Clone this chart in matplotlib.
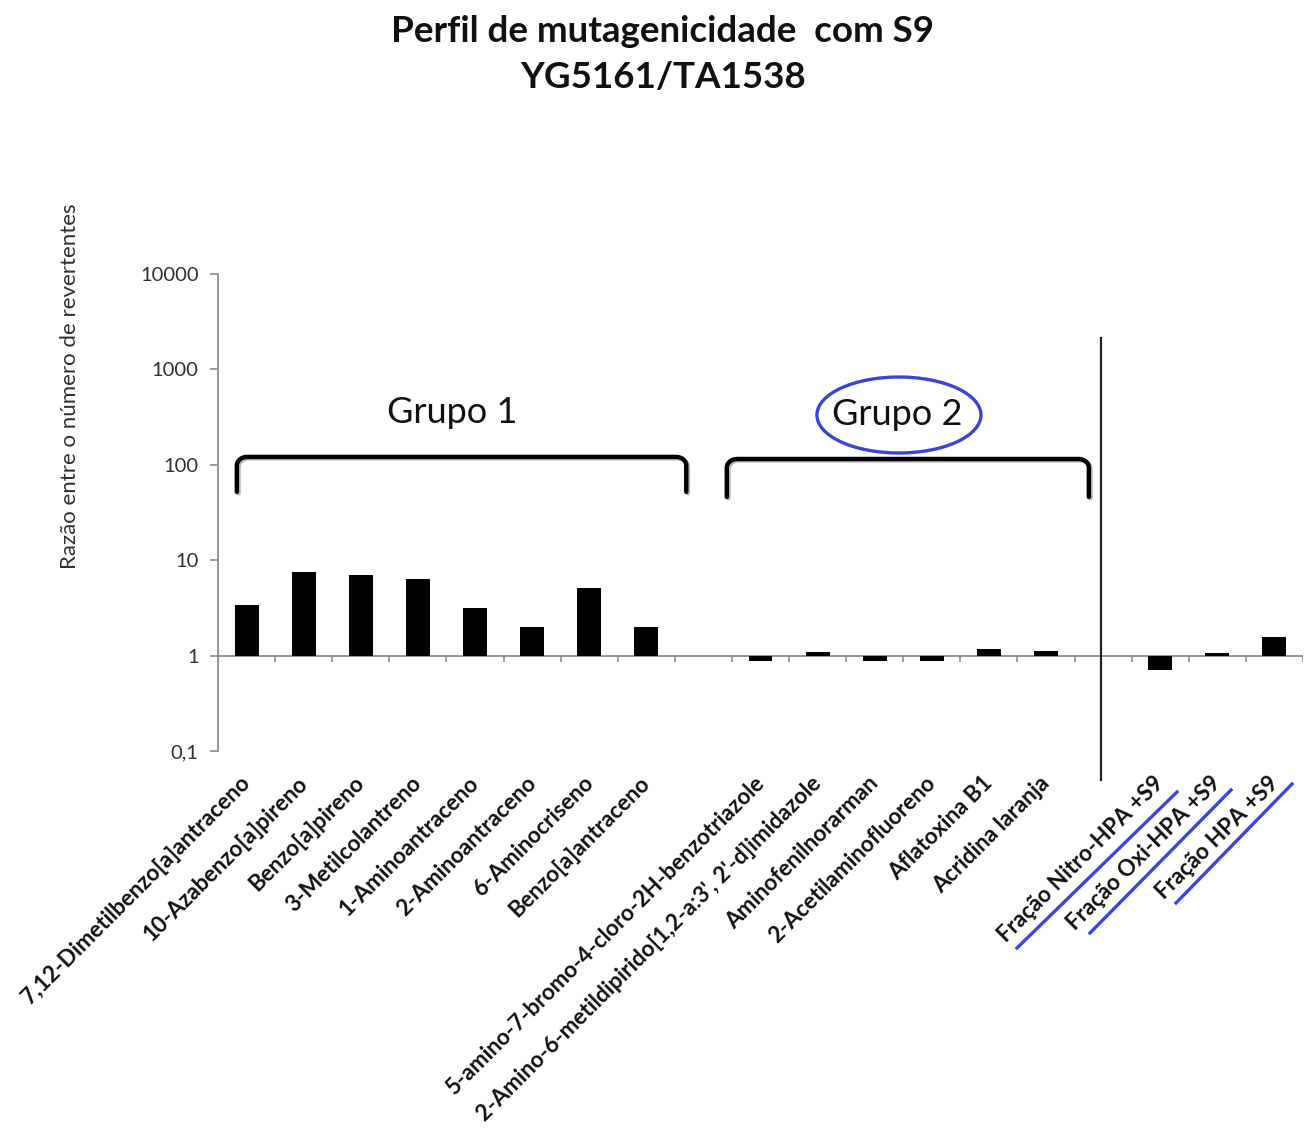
import numpy as np
import matplotlib
matplotlib.use("Agg")
import matplotlib.pyplot as plt
from matplotlib.patches import Ellipse
from matplotlib.lines import Line2D
from matplotlib.transforms import ScaledTranslation

plt.rcParams['font.family'] = ['Lato', 'DejaVu Sans']

# razao entre o numero de revertentes (YG5161 / TA1538), com S9
grupo1_nomes = ["7,12-Dimetilbenzo[a]antraceno", "10-Azabenzo[a]pireno", "Benzo[a]pireno",
                "3-Metilcolantreno", "1-Aminoantraceno", "2-Aminoantraceno",
                "6-Aminocriseno", "Benzo[a]antraceno"]
grupo1_valores = [3.4, 7.6, 7.0, 6.35, 3.15, 2.0, 5.1, 2.0]

grupo2_nomes = ["5-amino-7-bromo-4-cloro-2H-benzotriazole",
                "2-Amino-6-metildipirido[1,2-a:3', 2'-d]imidazole",
                "Aminofenilnorarman", "2-Acetilaminofluoreno", "Aflatoxina B1", "Acridina laranja"]
grupo2_valores = [0.87, 1.08, 0.87, 0.87, 1.18, 1.12]

fracoes_nomes = ["Fração Nitro-HPA +S9", "Fração Oxi-HPA +S9", "Fração HPA +S9"]
fracoes_valores = [0.71, 1.07, 1.57]

ytick_vals = [0.1, 1, 10, 100, 1000, 10000]
ytick_txt = ["0,1", "1", "10", "100", "1000", "10000"]

# posicoes das categorias: grupo 1, vazio, grupo 2, vazio, fracoes
pos1 = np.arange(8) + 0.5
pos2 = np.arange(9, 15) + 0.5
pos3 = np.arange(16, 19) + 0.5
n_slots = 19

fig = plt.figure(figsize=(13.05, 11.29), dpi=100)
ax = fig.add_axes([218 / 1305, 1 - 751 / 1129, (1303 - 218) / 1305, 477 / 1129])

for pos, vals in [(pos1, grupo1_valores), (pos2, grupo2_valores), (pos3, fracoes_valores)]:
    vals = np.array(vals)
    ax.bar(pos, vals - 1, bottom=1, width=0.42, color='black', zorder=3)

ax.set_yscale('log')
ax.set_ylim(0.1, 10000)
ax.set_xlim(0, n_slots)
ax.set_yticks(ytick_vals, ytick_txt)
ax.yaxis.set_minor_locator(matplotlib.ticker.NullLocator())
ax.tick_params(axis='y', length=6, width=1.2, color='#8c8c8c', labelsize=14.5,
               labelcolor='#303030', pad=8)
for s in ['top', 'right', 'bottom']:
    ax.spines[s].set_visible(False)
ax.spines['left'].set_color('#8c8c8c')
ax.spines['left'].set_linewidth(1.3)

# eixo horizontal cruzando em 1, com marcas entre categorias
ax.axhline(1, color='#8c8c8c', lw=1.3, zorder=2)
limites = np.arange(1, n_slots + 1)
ax.vlines(limites, 10 ** (-6 / 95.5), 1, color='#8c8c8c', lw=1.2)

# rotulos das categorias, inclinados 45 graus
posicoes = np.concatenate([pos1, pos2, pos3])
nomes = grupo1_nomes + grupo2_nomes + fracoes_nomes
ax.set_xticks(posicoes, [""] * len(posicoes))
ax.tick_params(axis='x', length=0)
trans_lbl = ax.get_xaxis_transform() + ScaledTranslation(0.5 / 100, -29 / 100, fig.dpi_scale_trans)
for x, nome in zip(posicoes, nomes):
    ax.text(x, 0, nome, transform=trans_lbl, rotation=45, rotation_mode='anchor',
            ha='right', va='center', fontsize=16.2, fontweight='bold', color='#111111')

# linha vertical separando as fracoes
ax.axvline(15.46, ymin=-0.061, ymax=0.866, color='#222222', lw=1.6, clip_on=False)


def chave(x0, x1, ytopo, ybase, r=0.18):
    # chave com cantos arredondados (em log10 para y)
    lt, lb = np.log10(ytopo), np.log10(ybase)
    ry = 0.09
    t = np.linspace(0, np.pi / 2, 12)
    xs = [x0]
    ys = [lb]
    xs += list(x0 + r - r * np.cos(t))
    ys += list(lt - ry + ry * np.sin(t))
    xs += list(x1 - r + r * np.sin(t))
    ys += list(lt - ry + ry * np.cos(t))
    xs += [x1]
    ys += [lb]
    ax.plot(np.array(xs) + 0.03, 10 ** (np.array(ys) - 0.015), color='#bbbbbb', lw=3.2,
            solid_capstyle='round', zorder=3)
    ax.plot(xs, 10 ** np.array(ys), color='black', lw=3.2, solid_capstyle='round',
            solid_joinstyle='round', zorder=4)


chave(0.33, 8.2, 121, 52)
chave(8.91, 15.25, 115, 46)
ax.text(4.1, 351, "Grupo 1", ha='center', va='center', fontsize=26, color='#111111')
ax.text(11.9, 334, "Grupo 2", ha='center', va='center', fontsize=26, color='#111111')
ax.add_patch(Ellipse((0.6276, 0.7044), 0.1512, 0.1593, transform=ax.transAxes,
                     fill=False, edgecolor='#3b44d4', lw=2.4, zorder=5))

# sublinhado azul das fracoes
azul = '#3c46d8'
for (xa, ya), (xb, yb) in [((1017, 948), (1177, 792)),
                           ((1090, 933), (1231, 790)),
                           ((1176, 903), (1292, 784))]:
    fig.add_artist(Line2D([xa / 1305, xb / 1305], [1 - ya / 1129, 1 - yb / 1129],
                          transform=fig.transFigure, color=azul, lw=2.4))

fig.text(0.508, 1 - 31 / 1129, "Perfil de mutagenicidade  com S9", ha='center', va='center',
         fontsize=26.5, fontweight='bold', color='#111111')
fig.text(0.508, 1 - 78 / 1129, "YG5161/TA1538", ha='center', va='center',
         fontsize=26.5, fontweight='bold', color='#111111')
fig.text(70 / 1305, 1 - 386 / 1129, "Razão entre o número de revertentes", rotation=90,
         ha='center', va='center', fontsize=16, color='#303030')

fig.savefig("out.png", dpi=100)
